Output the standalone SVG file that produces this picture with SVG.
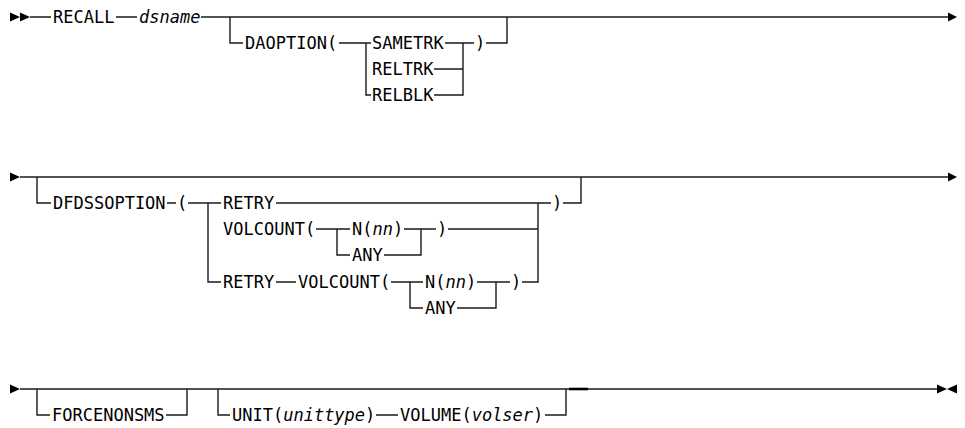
<svg xmlns="http://www.w3.org/2000/svg" width="965" height="428" viewBox="0 0 965 428">
<style>
text{font-family:"DejaVu Sans Mono","Liberation Mono",monospace;font-size:17px;fill:#000}
.i{font-style:italic}
.l{fill:none;stroke:#1a1a1a;stroke-width:1.4}
.a{fill:#000}
</style>
<rect width="965" height="428" fill="#fff"/>
<g id="connectors">
<!-- row 1 -->
<polygon class="a" points="10,12.5 20,17 10,21.5"/>
<polygon class="a" points="20,12.5 30,17 20,21.5"/>
<path class="l" d="M30 17H51M116 17H137M201 17H948"/>
<polygon class="a" points="948,12.5 957,17 948,21.5"/>
<path class="l" d="M230 17V43H243M339 43H371M366 43V95H371M445 43H474M463 43V95H434M434 69H463M486 43H507V17"/>
<!-- row 2 -->
<polygon class="a" points="10,172.5 20,177 10,181.5"/>
<path class="l" d="M20 177H948"/>
<polygon class="a" points="948,172.5 957,177 948,181.5"/>
<path class="l" d="M37 177V203H51M167 203H176M188 203H221M208 203V282H221"/>
<path class="l" d="M276 203H551M538 203V282H522M563 203H581V177"/>
<path class="l" d="M316 229H350M337 229V255H350M404 229H436M421 229V255H384M448 229H538"/>
<path class="l" d="M276 282H296M391 282H423M410 282V308H423M477 282H510M496 282V308H457"/>
<!-- row 3 -->
<polygon class="a" points="10,384.5 20,389 10,393.5"/>
<path class="l" d="M20 389H937"/>
<polygon class="a" points="937,384.5 947,389 937,393.5"/>
<polygon class="a" points="957,384.5 947,389 957,393.5"/>
<path class="l" d="M37 389V415H50M166 415H187V389M218 389V415H230M376 415H398M545 415H566V389"/>
<path d="M569 389H588" stroke="#000" stroke-width="2.6"/>
</g>
<g id="recall"><text x="53" y="23">RECALL</text></g>
<g id="dsname"><text class="i" x="139" y="23">dsname</text></g>
<g id="daoption"><text x="245" y="49">DAOPTION(</text><text x="475" y="49">)</text></g>
<g id="sametrk"><text x="372" y="49">SAMETRK</text></g>
<g id="reltrk"><text x="372" y="75">RELTRK</text></g>
<g id="relblk"><text x="372" y="101">RELBLK</text></g>
<g id="dfdssoption"><text x="53" y="209">DFDSSOPTION</text><text x="177" y="209">(</text><text x="552" y="209">)</text></g>
<g id="retry1"><text x="223" y="209">RETRY</text></g>
<g id="volcount1"><text x="223" y="235">VOLCOUNT(</text><text x="437" y="235">)</text></g>
<g id="n1"><text x="352" y="235">N(<tspan class="i">nn</tspan>)</text></g>
<g id="any1"><text x="352" y="261">ANY</text></g>
<g id="retry2"><text x="223" y="288">RETRY</text></g>
<g id="volcount2"><text x="298" y="288">VOLCOUNT(</text><text x="511" y="288">)</text></g>
<g id="n2"><text x="425" y="288">N(<tspan class="i">nn</tspan>)</text></g>
<g id="any2"><text x="425" y="314">ANY</text></g>
<g id="forcenonsms"><text x="52" y="421">FORCENONSMS</text></g>
<g id="unit"><text x="232" y="421">UNIT(<tspan class="i">unittype</tspan>)</text></g>
<g id="volume"><text x="400" y="421">VOLUME(<tspan class="i">volser</tspan>)</text></g>
</svg>
